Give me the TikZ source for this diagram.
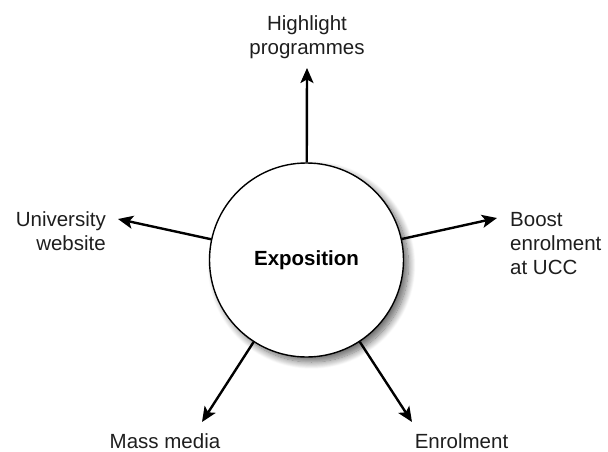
\documentclass[tikz,border=0pt]{standalone}
\usepackage{fontspec}
\setmainfont{Liberation Sans}
\usetikzlibrary{arrows.meta,shadows.blur}

\definecolor{inkgray}{HTML}{1E1E1E}

\tikzset{
  hub/.style={circle, draw=black, line width=1.4pt, fill=white,
    minimum size=194pt, inner sep=0pt,
    font=\fontsize{20.5}{24}\selectfont\bfseries, text=black,
    blur shadow={shadow xshift=5pt, shadow yshift=-5pt,
      shadow blur radius=7pt, shadow blur steps=14, shadow opacity=60}},
  lbl/.style={inner sep=0pt, text=inkgray,
    font=\fontsize{20.5}{24}\selectfont},
  spoke/.style={line width=2.4pt, draw=black,
    -{Stealth[length=15pt, width=13pt, inset=3.5pt]}}
}

\begin{document}
\begin{tikzpicture}[x=1pt, y=-1pt]
  \useasboundingbox (0,0) rectangle (608,452);

  % central topic
  \node[hub] (c) at (306.5,260) {Exposition};

  % arrow tips, laid out radially from the hub
  \coordinate (tipTop)   at (307,68);
  \coordinate (tipRight) at (497,218);
  \coordinate (tipLeft)  at (118,219);
  \coordinate (tipBL)    at (202,422);
  \coordinate (tipBR)    at (412,422);

  % outcome labels
  \node[lbl, align=center]             (high)  at (307,37)    {Highlight\\programmes};
  \node[lbl, align=right, anchor=east] (univ)  at (106,231)   {University\\website};
  \node[lbl, align=left, anchor=west]  (boost) at (510,243.5) {Boost\\enrolment\\at UCC};
  \node[lbl, anchor=base]              (mass)  at (165,448)   {Mass media};
  \node[lbl, anchor=base]              (enrol) at (461.5,448) {Enrolment};

  % spokes
  \draw[spoke] (c) -- (tipTop);
  \draw[spoke] (c) -- (tipRight);
  \draw[spoke] (c) -- (tipLeft);
  \draw[spoke] (c) -- (tipBL);
  \draw[spoke] (c) -- (tipBR);
\end{tikzpicture}
\end{document}
